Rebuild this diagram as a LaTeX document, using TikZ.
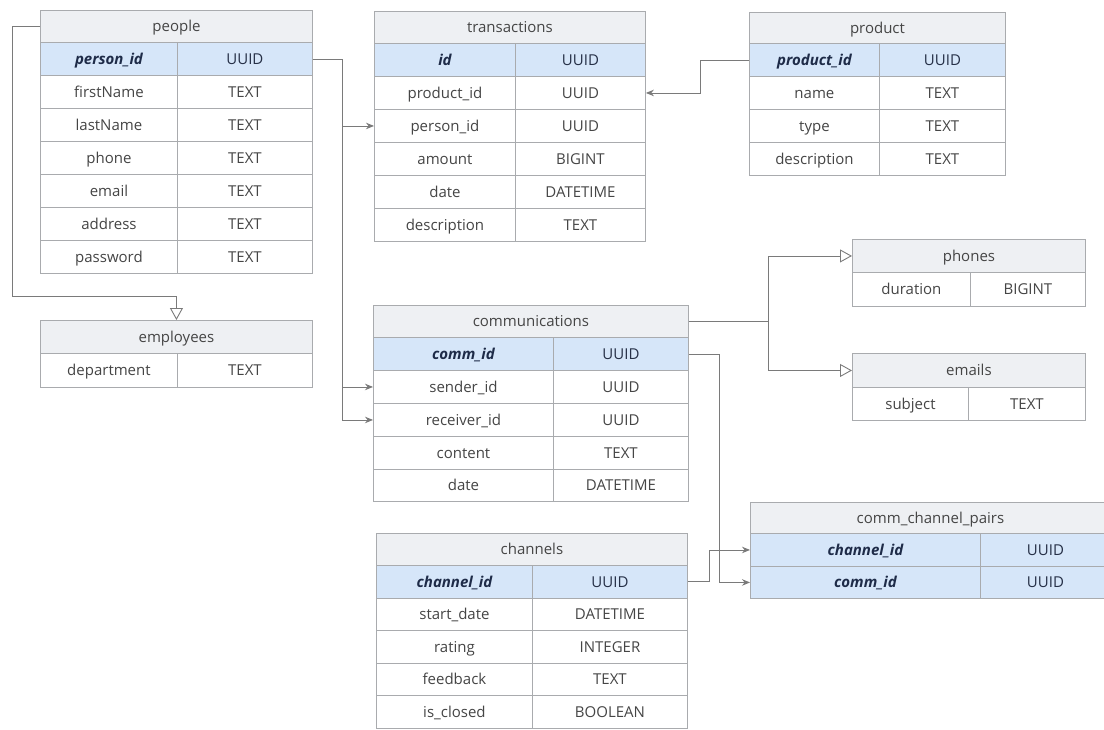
\documentclass[tikz,border=0pt]{standalone}
\usepackage{fontspec}
\setmainfont{Open Sans}
\usetikzlibrary{arrows.meta}

\definecolor{hdrfill}{HTML}{EEF0F3}
\definecolor{pkfill}{HTML}{D6E6F9}
\definecolor{gridline}{HTML}{A9ABAE}
\definecolor{txt}{HTML}{454545}
\definecolor{pktxt}{HTML}{1E2B48}
\definecolor{wire}{HTML}{7A7A7A}

\tikzset{
  cell/.style={draw=gridline, line width=0.9pt, inner sep=0pt, text=txt,
    text height=11pt, text depth=0pt,
    font=\fontsize{15}{17}\selectfont, anchor=north west},
  hdr/.style={cell, fill=hdrfill},
  plain/.style={cell, fill=white},
  pkfield/.style={cell, fill=pkfill, text=pktxt,
    font=\fontsize{15}{17}\selectfont\bfseries\itshape},
  pktype/.style={cell, fill=pkfill, text=pktxt!80!txt},
  conn/.style={draw=wire, line width=0.9pt},
  fk/.style={conn, -{Stealth[length=8pt,width=6.5pt]}},
  isa/.style={conn, -{Triangle[open, length=12pt, width=13pt, fill=white]}}
}

% header: name, x1, x2, ytop, ybot, title
\newcommand\thead[6]{%
  \node[hdr, minimum width={(#3-#2)*1pt}, minimum height={(#5-#4)*1pt}] (#1) at (#2,#4) {#6};}
% row: name, x1, xdiv, x2, ytop, ybot, field, type, field style, type style
\newcommand\trow[9]{%
  \node[#9, minimum width={(#3-#2)*1pt}, minimum height={(#6-#5)*1pt}] (#1f) at (#2,#5) {#7};
  \trowtype{#1}{#3}{#4}{#5}{#6}{#8}}
\newcommand\trowtype[7]{%
  \node[#7, minimum width={(#3-#2)*1pt}, minimum height={(#5-#4)*1pt}] (#1t) at (#2,#4) {#6};}

\begin{document}
\begin{tikzpicture}[x=1pt,y=-1pt]
\useasboundingbox (0,0) rectangle (1104,729);

% people
\thead{people-h}{40}{312}{10}{42}{people}
\trow{people-1}{40}{177}{312}{42}{75}{person\_id}{UUID}{pkfield}{pktype}
\trow{people-2}{40}{177}{312}{75}{108}{firstName}{TEXT}{plain}{plain}
\trow{people-3}{40}{177}{312}{108}{141}{lastName}{TEXT}{plain}{plain}
\trow{people-4}{40}{177}{312}{141}{174}{phone}{TEXT}{plain}{plain}
\trow{people-5}{40}{177}{312}{174}{207}{email}{TEXT}{plain}{plain}
\trow{people-6}{40}{177}{312}{207}{240}{address}{TEXT}{plain}{plain}
\trow{people-7}{40}{177}{312}{240}{273}{password}{TEXT}{plain}{plain}

% employees
\thead{emp-h}{40}{312}{320}{353}{employees}
\trow{emp-1}{40}{177}{312}{353}{387}{department}{TEXT}{plain}{plain}

% transactions
\thead{trans-h}{374}{645}{11}{43}{transactions}
\trow{trans-1}{374}{515}{645}{43}{76}{id}{UUID}{pkfield}{pktype}
\trow{trans-2}{374}{515}{645}{76}{109}{product\_id}{UUID}{plain}{plain}
\trow{trans-3}{374}{515}{645}{109}{142}{person\_id}{UUID}{plain}{plain}
\trow{trans-4}{374}{515}{645}{142}{175}{amount}{BIGINT}{plain}{plain}
\trow{trans-5}{374}{515}{645}{175}{208}{date}{DATETIME}{plain}{plain}
\trow{trans-6}{374}{515}{645}{208}{241}{description}{TEXT}{plain}{plain}

% product
\thead{prod-h}{749}{1005}{12}{43}{product}
\trow{prod-1}{749}{879}{1005}{43}{76}{product\_id}{UUID}{pkfield}{pktype}
\trow{prod-2}{749}{879}{1005}{76}{109}{name}{TEXT}{plain}{plain}
\trow{prod-3}{749}{879}{1005}{109}{142}{type}{TEXT}{plain}{plain}
\trow{prod-4}{749}{879}{1005}{142}{175}{description}{TEXT}{plain}{plain}

% communications
\thead{comm-h}{373}{688}{305}{337}{communications}
\trow{comm-1}{373}{553}{688}{337}{370}{comm\_id}{UUID}{pkfield}{pktype}
\trow{comm-2}{373}{553}{688}{370}{403}{sender\_id}{UUID}{plain}{plain}
\trow{comm-3}{373}{553}{688}{403}{436}{receiver\_id}{UUID}{plain}{plain}
\trow{comm-4}{373}{553}{688}{436}{469}{content}{TEXT}{plain}{plain}
\trow{comm-5}{373}{553}{688}{469}{501}{date}{DATETIME}{plain}{plain}

% phones and emails
\thead{phones-h}{852}{1085}{239}{272}{phones}
\trow{phones-1}{852}{970}{1085}{272}{306}{duration}{BIGINT}{plain}{plain}
\thead{emails-h}{852}{1085}{353}{387}{emails}
\trow{emails-1}{852}{968}{1085}{387}{420}{subject}{TEXT}{plain}{plain}

% channels
\thead{chan-h}{376}{687}{533}{565}{channels}
\trow{chan-1}{376}{532}{687}{565}{597.5}{channel\_id}{UUID}{pkfield}{pktype}
\trow{chan-2}{376}{532}{687}{597.5}{630}{start\_date}{DATETIME}{plain}{plain}
\trow{chan-3}{376}{532}{687}{630}{662.5}{rating}{INTEGER}{plain}{plain}
\trow{chan-4}{376}{532}{687}{662.5}{695}{feedback}{TEXT}{plain}{plain}
\trow{chan-5}{376}{532}{687}{695}{727.5}{is\_closed}{BOOLEAN}{plain}{plain}

% comm_channel_pairs (runs past the right edge)
\thead{ccp-h}{750}{1110}{502}{533}{comm\_channel\_pairs}
\trow{ccp-1}{750}{980}{1110}{533}{566}{channel\_id}{UUID}{pkfield}{pktype}
\trow{ccp-2}{750}{980}{1110}{566}{598}{comm\_id}{UUID}{pkfield}{pktype}

% routing columns for the connectors
\coordinate (inh) at (12,296);
\coordinate (pbus) at (342,0);
\coordinate (prodbus) at (700,0);
\coordinate (cbus) at (768,0);
\coordinate (commbus) at (719,0);
\coordinate (chanbus) at (709,0);

% employees inherit from people
\draw[isa] (people-h.west) -| (inh) -| (emp-h.north);

% person_id references
\draw[fk] (people-1t.east) -| (pbus |- trans-3f.west) -- (trans-3f.west);
\draw[fk] (people-1t.east) -| (pbus |- comm-2f.west) -- (comm-2f.west);
\draw[fk] (people-1t.east) -| (pbus |- comm-3f.west) -- (comm-3f.west);

% product_id reference
\draw[fk] (prod-1f.west) -| (prodbus |- trans-2t.east) -- (trans-2t.east);

% phones and emails specialise communications
\draw[isa] (comm-h.east) -| (cbus |- phones-h.west) -- (phones-h.west);
\draw[isa] (comm-h.east) -| (cbus |- emails-h.west) -- (emails-h.west);

% comm_channel_pairs references
\draw[fk] (comm-1t.east) -| (commbus |- ccp-2f.west) -- (ccp-2f.west);
\draw[fk] (chan-1t.east) -| (chanbus |- ccp-1f.west) -- (ccp-1f.west);
\end{tikzpicture}
\end{document}
